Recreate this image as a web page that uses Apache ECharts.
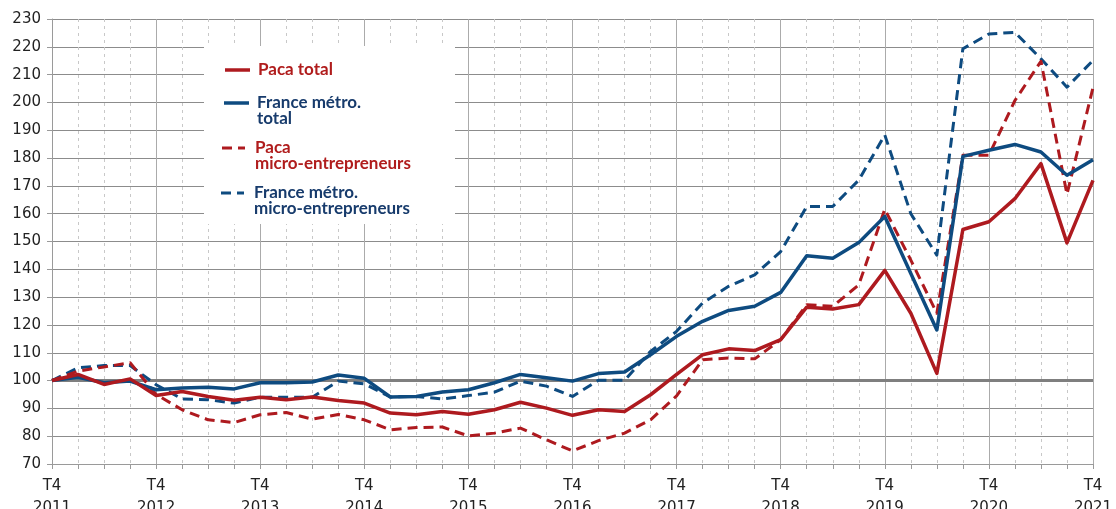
<!DOCTYPE html>
<html>
<head>
<meta charset="utf-8">
<script src="https://cdn.jsdelivr.net/npm/echarts@6/dist/echarts.min.js"></script>
<style>
html,body{margin:0;padding:0;background:#fff;overflow:hidden;}
#chart{width:1116px;height:509px;}
</style>
</head>
<body>
<div id="chart"></div>
<script>
const categories = [
  "T4 2011","T1 2012","T2 2012","T3 2012","T4 2012",
  "T1 2013","T2 2013","T3 2013","T4 2013",
  "T1 2014","T2 2014","T3 2014","T4 2014",
  "T1 2015","T2 2015","T3 2015","T4 2015",
  "T1 2016","T2 2016","T3 2016","T4 2016",
  "T1 2017","T2 2017","T3 2017","T4 2017",
  "T1 2018","T2 2018","T3 2018","T4 2018",
  "T1 2019","T2 2019","T3 2019","T4 2019",
  "T1 2020","T2 2020","T3 2020","T4 2020",
  "T1 2021","T2 2021","T3 2021","T4 2021"
];
const pacaTotal = [100,102.2,98.6,100.6,94.6,96.1,94.3,92.9,94.0,93.1,94.1,92.8,91.9,88.3,87.7,88.9,87.9,89.5,92.2,90.1,87.5,89.5,88.9,94.9,102.2,109.3,111.4,110.8,114.7,126.4,125.7,127.3,139.6,124.2,102.6,154.3,157.1,165.4,178.0,149.5,172.0];
const franceTotal = [100,101.2,99.2,99.8,96.7,97.3,97.6,97.0,99.2,99.2,99.5,102.0,100.8,94.1,94.3,95.9,96.7,99.2,102.2,101.0,99.8,102.5,103.1,109.3,115.9,121.3,125.2,126.7,131.7,144.9,144.0,149.6,159.0,138.5,118.2,180.6,182.8,184.9,182.2,173.8,179.4];
const pacaMicro = [100,103.4,104.9,106.4,95.0,89.5,85.9,84.9,87.7,88.5,86.1,87.8,85.9,82.3,83.1,83.3,80.1,81.1,82.9,78.7,74.7,78.4,81.1,85.9,94.5,107.5,108.1,107.8,114.7,127.3,126.7,134.4,161.6,143.3,124.2,181.0,181.0,200.7,214.8,167.0,205.3];
const franceMicro = [100,104.6,105.4,105.4,98.5,93.4,93.1,91.9,94.0,94.0,94.0,99.8,98.8,94.1,94.3,93.4,94.6,95.8,99.8,98.0,94.3,100.1,100.1,110.5,117.7,127.9,133.9,138.0,146.4,162.6,162.6,172.1,188.3,160.0,145.1,219.3,224.6,225.2,215.7,205.5,215.1];
const baseValue = 100;
const yMin = 70, yMax = 230, yStep = 10;

const RED = '#ae1a1f';
const BLUE = '#0e4b80';
const RED_TXT = '#b01c1c';
const BLUE_TXT = '#173b6c';
const AXIS_FONT = '"DejaVu Sans", Verdana, sans-serif';

const chart = echarts.init(document.getElementById('chart'), null, {renderer:'canvas'});

function lineSeries(name, data, color, dashed, z) {
  return {
    name: name, type: 'line', data: data, symbol: 'none', z: z,
    lineStyle: {color: color, width: dashed ? 3 : 3.5, type: dashed ? [10, 6] : 'solid', join: 'round'},
    itemStyle: {color: color},
    animation: false
  };
}

const legendFont = 'bold 17px Lato';
const series = [
  lineSeries('France métro. micro-entrepreneurs', franceMicro, BLUE, true, 2),
  lineSeries('Paca micro-entrepreneurs', pacaMicro, RED, true, 3),
  lineSeries('France métro. total', franceTotal, BLUE, false, 4),
  lineSeries('Paca total', pacaTotal, RED, false, 5)
];
series[0].markLine = {
  silent: true, symbol: 'none', z: 1, animation: false,
  label: {show: false},
  lineStyle: {color: '#7f7f7f', width: 3, type: 'solid'},
  data: [{yAxis: baseValue}]
};

const option = {
  backgroundColor: '#fff',
  animation: false,
  grid: {left: 52, right: 23, top: 19, bottom: 45, containLabel: false, outerBoundsMode: 'none'},
  xAxis: [{
    type: 'category', data: categories, boundaryGap: false,
    axisLine: {show: true, lineStyle: {color: '#9a9a9a', width: 1}},
    axisTick: {show: true, length: 5, interval: 0, lineStyle: {color: '#9a9a9a'}},
    axisLabel: {
      interval: 3, color: '#222', fontFamily: AXIS_FONT, fontSize: 15, lineHeight: 22, margin: 11,
      hideOverlap: false,
      formatter: v => v.replace(' ', '\n')
    },
    splitLine: {show: true, interval: 0, lineStyle: {color: '#c8c8c8', width: 1, type: [3, 4]}}
  }, {
    type: 'category', data: categories, boundaryGap: false, position: 'bottom',
    axisLine: {show: false}, axisTick: {show: false}, axisLabel: {show: false},
    splitLine: {show: true, interval: 3, lineStyle: {color: '#ababab', width: 1, type: 'solid'}}
  }],
  yAxis: {
    type: 'value', min: yMin, max: yMax, interval: yStep,
    axisLine: {show: true, lineStyle: {color: '#9a9a9a'}},
    axisTick: {show: true, length: 5, lineStyle: {color: '#9a9a9a'}},
    axisLabel: {color: '#222', fontFamily: AXIS_FONT, fontSize: 15, margin: 11},
    splitLine: {show: true, lineStyle: {color: '#8c8c8c', width: 1}}
  },
  graphic: [
    {type: 'rect', z: 10, shape: {x: 204, y: 46, width: 251, height: 178}, style: {fill: '#fff'}},
    {type: 'line', z: 11, shape: {x1: 225, y1: 70, x2: 250, y2: 70}, style: {stroke: RED, lineWidth: 3.5}},
    {type: 'text', z: 11, style: {x: 258, y: 70, text: 'Paca total', font: legendFont, fill: RED_TXT, verticalAlign: 'middle'}},
    {type: 'line', z: 11, shape: {x1: 224, y1: 103, x2: 249, y2: 103}, style: {stroke: BLUE, lineWidth: 3.5}},
    {type: 'text', z: 11, style: {x: 257, y: 95, text: 'France métro.\ntotal', font: legendFont, fill: BLUE_TXT, lineHeight: 16, verticalAlign: 'top'}},
    {type: 'line', z: 11, shape: {x1: 222, y1: 148, x2: 245, y2: 148}, style: {stroke: RED, lineWidth: 3, lineDash: [10, 6]}},
    {type: 'text', z: 11, style: {x: 255, y: 140, text: 'Paca\nmicro-entrepreneurs', font: legendFont, fill: RED_TXT, lineHeight: 16, verticalAlign: 'top'}},
    {type: 'line', z: 11, shape: {x1: 221, y1: 193, x2: 244, y2: 193}, style: {stroke: BLUE, lineWidth: 3, lineDash: [10, 6]}},
    {type: 'text', z: 11, style: {x: 254, y: 185, text: 'France métro.\nmicro-entrepreneurs', font: legendFont, fill: BLUE_TXT, lineHeight: 16, verticalAlign: 'top'}}
  ],
  series: series
};
chart.setOption(option);
</script>
</body>
</html>
